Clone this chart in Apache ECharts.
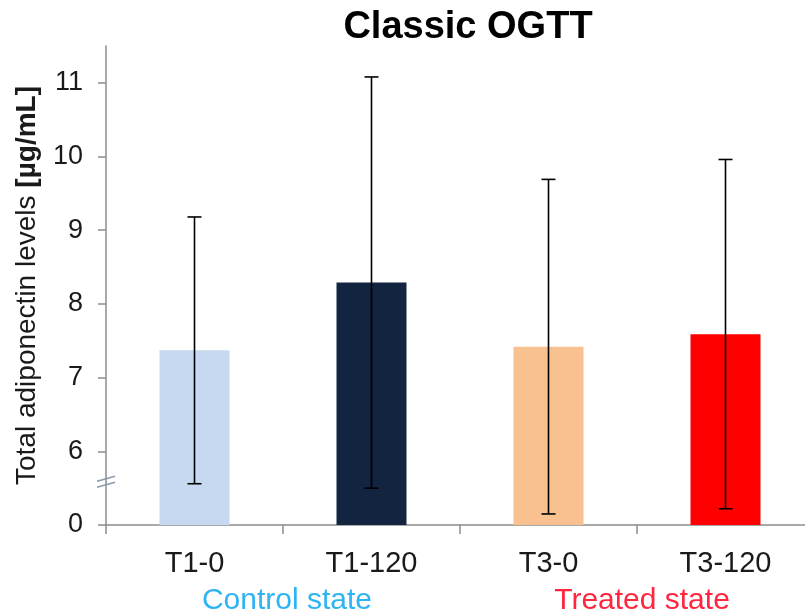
<!DOCTYPE html>
<html>
<head>
<meta charset="utf-8">
<script src="https://cdn.jsdelivr.net/npm/echarts@6/dist/echarts.min.js"></script>
<style>
  html, body { margin: 0; padding: 0; background: #fff; }
  #chart { width: 805px; height: 616px; }
</style>
</head>
<body>
<div id="chart"></div>
<script>
// Sampling points and group labels
const categories = ['T1-0', 'T1-120', 'T3-0', 'T3-120'];
const groups = ['Control state', 'Treated state'];

// Mean total adiponectin and standard deviation (µg/mL)
const means = [7.37, 8.29, 7.42, 7.59];
const sds = [1.81, 2.79, 2.27, 2.37];

// Y axis is broken below 6: the base of the axis (5) is shown as 0
const axisBase = 5;
const yTickValues = [5, 6, 7, 8, 9, 10, 11];
const yTickLabels = ['0', '6', '7', '8', '9', '10', '11'];

const barColors = ['#c6d9f1', '#12243f', '#f9c090', '#ff0000'];
const groupColors = ['#2fb3f3', '#ff2640'];
const FONT = '"Liberation Sans", Arial, sans-serif';

const chart = echarts.init(document.getElementById('chart'), null, { renderer: 'canvas' });

const errData = categories.map((c, i) => [i, means[i] - sds[i], means[i] + sds[i]]);

chart.setOption({
  animation: false,
  backgroundColor: '#ffffff',
  title: {
    text: 'Classic OGTT',
    left: 463,
    top: 4,
    textAlign: 'center',
    textStyle: { fontFamily: FONT, fontSize: 38, fontWeight: 'bold', color: '#000' }
  },
  grid: { left: 106, right: -9, top: 46, bottom: 91, containLabel: false, outerBoundsMode: 'none' },
  xAxis: {
    type: 'category',
    data: categories,
    axisLine: { lineStyle: { color: '#8c8c8c', width: 1.5 } },
    axisTick: { show: true, length: 9, lineStyle: { color: '#8c8c8c', width: 1.5 } },
    axisLabel: { fontFamily: FONT, fontSize: 29, color: '#1a1a1a', margin: 24 },
    splitLine: { show: false }
  },
  yAxis: {
    type: 'value',
    min: axisBase,
    max: 11.5,
    interval: 1,
    name: '{a|Total adiponectin levels }{b|[µg/mL]}',
    nameLocation: 'middle',
    nameRotate: 90,
    nameGap: 65,
    nameTextStyle: {
      rich: {
        a: { fontFamily: FONT, fontSize: 28, color: '#1a1a1a' },
        b: { fontFamily: FONT, fontSize: 28, color: '#1a1a1a', fontWeight: 'bold' }
      }
    },
    axisLine: { show: true, lineStyle: { color: '#8c8c8c', width: 1.5 } },
    axisTick: { show: true, length: 8, customValues: yTickValues, lineStyle: { color: '#8c8c8c', width: 1.5 } },
    axisLabel: {
      customValues: yTickValues,
      fontFamily: FONT, fontSize: 27, color: '#1a1a1a', margin: 23,
      formatter: v => yTickLabels[yTickValues.indexOf(v)] ?? ''
    },
    splitLine: { show: false }
  },
  series: [
    {
      type: 'bar',
      barWidth: 70,
      data: means.map((v, i) => ({ value: v, itemStyle: { color: barColors[i] } })),
      z: 2
    },
    {
      type: 'custom',
      data: errData,
      z: 5,
      renderItem: function (params, api) {
        const x = api.value(0);
        const lo = api.coord([x, api.value(1)]);
        const hi = api.coord([x, api.value(2)]);
        const half = 7;
        const style = { stroke: '#000', lineWidth: 1.6 };
        return {
          type: 'group',
          children: [
            { type: 'line', shape: { x1: hi[0], y1: hi[1], x2: lo[0], y2: lo[1] }, style },
            { type: 'line', shape: { x1: hi[0] - half, y1: hi[1], x2: hi[0] + half, y2: hi[1] }, style },
            { type: 'line', shape: { x1: lo[0] - half, y1: lo[1], x2: lo[0] + half, y2: lo[1] }, style }
          ]
        };
      }
    }
  ]
});

// Group captions under each pair of categories, and the axis-break mark
function px(catIdx) { return chart.convertToPixel({ xAxisIndex: 0 }, catIdx); }
const g1 = (px(0) + px(1)) / 2;
const g2 = (px(2) + px(3)) / 2;
const axisX = px(0) - (px(1) - px(0)) / 2;
const breakY = chart.convertToPixel({ yAxisIndex: 0 }, 5.58);

chart.setOption({
  graphic: [
    { type: 'text', x: g1 + 4, y: 601, style: { text: groups[0], font: '30px ' + FONT, fill: groupColors[0], align: 'center', verticalAlign: 'middle' } },
    { type: 'text', x: g2 + 5, y: 601, style: { text: groups[1], font: '30px ' + FONT, fill: groupColors[1], align: 'center', verticalAlign: 'middle' } },
    {
      type: 'group', x: axisX, y: breakY, z: 10,
      children: [
        { type: 'line', shape: { x1: -9, y1: -1, x2: 9, y2: -6 }, style: { stroke: '#8a9bb0', lineWidth: 1.5 } },
        { type: 'line', shape: { x1: -9, y1: 5, x2: 9, y2: 0 }, style: { stroke: '#8a9bb0', lineWidth: 1.5 } }
      ]
    }
  ]
});
</script>
</body>
</html>
